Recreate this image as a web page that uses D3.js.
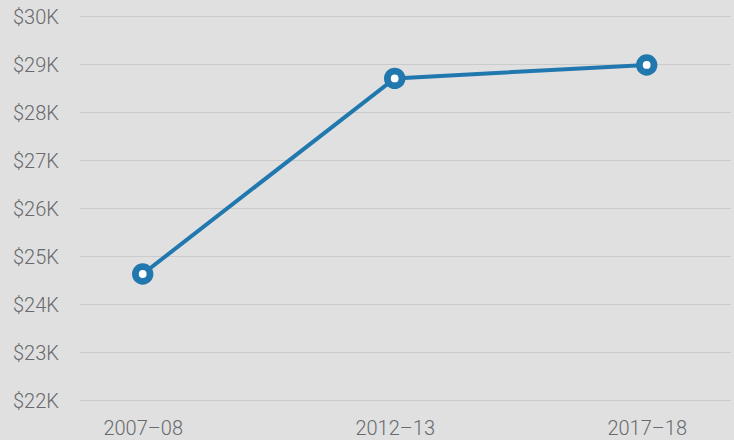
<!DOCTYPE html>
<html>
<head>
<meta charset="utf-8">
<script src="https://cdn.jsdelivr.net/npm/d3@7"></script>
<style>
  html, body { margin: 0; padding: 0; background: #e0e0e0; }
  svg { display: block; }
  text { font-family: Roboto, "Liberation Sans", sans-serif; font-weight: 300; }
</style>
</head>
<body>
<svg id="chart" width="734" height="440"></svg>
<script>
const categories = ["2007–08", "2012–13", "2017–18"];
const values = [24625, 28700, 28980];
const yTicks = [22000, 23000, 24000, 25000, 26000, 27000, 28000, 29000, 30000];

(function () {
const W = 734, H = 440;
const mLeft = 80, mRight = 731, mTop = 16, mBottom = 400;

const svg = d3.select("#chart");
svg.append("rect").attr("width", W).attr("height", H).attr("fill", "#e0e0e0");

const x = d3.scalePoint().domain(categories).range([142.7, 646.7]).padding(0);
const y = d3.scaleLinear().domain([22000, 30000]).range([mBottom, mTop]);

const yAxis = d3.axisLeft(y).tickValues(yTicks).tickSize(-(mRight - mLeft)).tickFormat(d => "$" + (d / 1000) + "K");
const gy = svg.append("g").attr("transform", `translate(${mLeft},0)`).call(yAxis);
gy.select(".domain").remove();
gy.selectAll(".tick line").attr("stroke", "#cbcbcb").attr("stroke-width", 1.2);
gy.selectAll(".tick text")
  .attr("x", -67).attr("text-anchor", "start").attr("dy", "0.36em")
  .attr("fill", "#676a6e").style("font-size", "20px");

const xAxis = d3.axisBottom(x).tickSize(0);
const gx = svg.append("g").attr("transform", `translate(0,${mBottom})`).call(xAxis);
gx.select(".domain").remove();
gx.selectAll(".tick text").attr("y", 35).attr("dy", 0)
  .attr("fill", "#676a6e").style("font-size", "20px");

const data = categories.map((c, i) => ({ c, v: values[i] }));

svg.append("path").datum(data)
  .attr("fill", "none").attr("stroke", "#2178ae").attr("stroke-width", 4)
  .attr("d", d3.line().x(d => x(d.c)).y(d => y(d.v)));

svg.selectAll("circle.pt").data(data).enter().append("circle")
  .attr("class", "pt")
  .attr("cx", d => x(d.c)).attr("cy", d => y(d.v)).attr("r", 7.3)
  .attr("fill", "#ffffff").attr("stroke", "#2178ae").attr("stroke-width", 6.8);
})();
</script>
</body>
</html>
